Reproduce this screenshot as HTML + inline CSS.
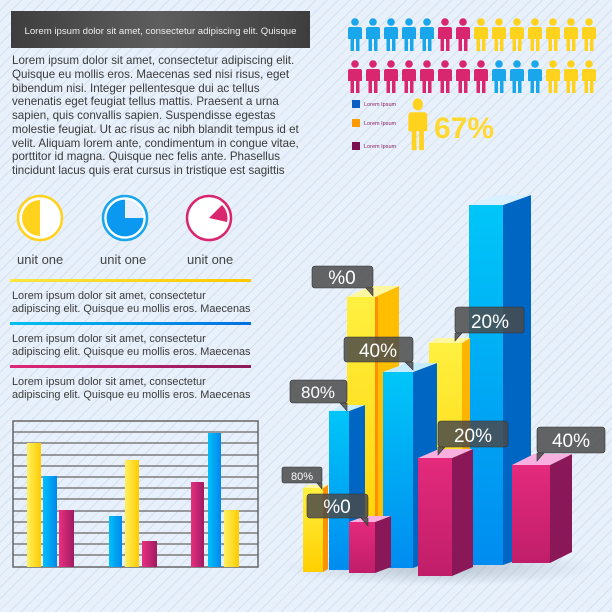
<!DOCTYPE html>
<html><head><meta charset="utf-8"><style>
html,body{margin:0;padding:0}
body{width:612px;height:612px;overflow:hidden;position:relative;font-family:"Liberation Sans",sans-serif;
background:#e8f1fb;background-image:repeating-linear-gradient(135deg,rgba(255,255,255,0) 0 7px,rgba(190,205,225,.45) 7px 8px);}
.abs{position:absolute}
.para{left:12px;top:54px;width:292px;font-size:11.6px;line-height:13.75px;color:#3a3a3a;white-space:nowrap}
.hdr{left:11px;top:11px;width:299px;height:37px;background:linear-gradient(90deg,#3e3e3e,#5e5e5e 50%,#3e3e3e);color:#eee;font-size:9.6px;line-height:42px;text-align:center}
.unit{font-size:13px;color:#444;top:252px}
.sm{font-size:10.9px;line-height:13px;color:#3a3a3a;left:12px}
.ln{height:3px;left:10px;width:241px}
</style></head><body>
<div class="abs hdr">Lorem ipsum dolor sit amet, consectetur adipiscing elit. Quisque</div>
<div class="abs para">Lorem ipsum dolor sit amet, consectetur adipiscing elit.<br>Quisque eu mollis eros. Maecenas sed nisi risus, eget<br>bibendum nisi. Integer pellentesque dui ac tellus<br>venenatis eget feugiat tellus mattis. Praesent a urna<br>sapien, quis convallis sapien. Suspendisse egestas<br>molestie feugiat. Ut ac risus ac nibh blandit tempus id et<br>velit. Aliquam lorem ante, condimentum in congue vitae,<br>porttitor id magna. Quisque nec felis ante. Phasellus<br>tincidunt lacus quis erat cursus in tristique est sagittis</div>
<div class="abs unit" style="left:17px">unit one</div>
<div class="abs unit" style="left:100px">unit one</div>
<div class="abs unit" style="left:187px">unit one</div>
<div class="abs ln" style="top:279px;background:linear-gradient(90deg,#ffe640,#ffc800)"></div>
<div class="abs sm" style="top:290px">Lorem ipsum dolor sit amet, consectetur<br>adipiscing elit. Quisque eu mollis eros. Maecenas</div>
<div class="abs ln" style="top:322px;background:linear-gradient(90deg,#00c0f0,#0070e0)"></div>
<div class="abs sm" style="top:333px">Lorem ipsum dolor sit amet, consectetur<br>adipiscing elit. Quisque eu mollis eros. Maecenas</div>
<div class="abs ln" style="top:365px;background:linear-gradient(90deg,#e0287a,#8a1a5a)"></div>
<div class="abs sm" style="top:376px">Lorem ipsum dolor sit amet, consectetur<br>adipiscing elit. Quisque eu mollis eros. Maecenas</div>

<svg class="abs" style="left:0;top:0" width="612" height="612" viewBox="0 0 612 612">
<defs>
<linearGradient id="bf" x1="0" y1="0" x2="0" y2="1"><stop offset="0" stop-color="#00c6f8"/><stop offset="1" stop-color="#008cf0"/></linearGradient>
<linearGradient id="yf" x1="0" y1="0" x2="0" y2="1"><stop offset="0" stop-color="#fff040"/><stop offset="1" stop-color="#ffd000"/></linearGradient>
<linearGradient id="mf" x1="0" y1="0" x2="0" y2="1"><stop offset="0" stop-color="#e42a7c"/><stop offset="1" stop-color="#c01e6a"/></linearGradient>
<linearGradient id="bh" x1="0" y1="0" x2="1" y2="0"><stop offset="0" stop-color="#00c0f8"/><stop offset="1" stop-color="#0088ee"/></linearGradient>
<linearGradient id="yh" x1="0" y1="0" x2="1" y2="0"><stop offset="0" stop-color="#fff060"/><stop offset="1" stop-color="#ffcc00"/></linearGradient>
<linearGradient id="mh" x1="0" y1="0" x2="1" y2="0"><stop offset="0" stop-color="#e83080"/><stop offset="1" stop-color="#a01a62"/></linearGradient>
<radialGradient id="sh" cx=".5" cy=".5" r=".5"><stop offset="0" stop-color="#9aa8b8" stop-opacity=".6"/><stop offset="1" stop-color="#9aa8b8" stop-opacity="0"/></radialGradient>
<g id="p"><circle cx="8" cy="4" r="3.8"/><path d="M3 9h10a2 2 0 0 1 2 2v10h-2.5v12h-3.5v-12h-2v12h-3.5v-12h-2.5v-10a2 2 0 0 1 2-2z"/></g>
</defs>

<g fill="#1aa6ea">
<use href="#p" x="347" y="18"/><use href="#p" x="365" y="18"/><use href="#p" x="383" y="18"/><use href="#p" x="401" y="18"/><use href="#p" x="419" y="18"/>
</g>
<g fill="#d8276f"><use href="#p" x="437" y="18"/><use href="#p" x="455" y="18"/></g>
<g fill="#ffd21e">
<use href="#p" x="473" y="18"/><use href="#p" x="491" y="18"/><use href="#p" x="509" y="18"/><use href="#p" x="527" y="18"/><use href="#p" x="545" y="18"/><use href="#p" x="563" y="18"/><use href="#p" x="581" y="18"/>
</g>
<g fill="#d8276f">
<use href="#p" x="347" y="60"/><use href="#p" x="365" y="60"/><use href="#p" x="383" y="60"/><use href="#p" x="401" y="60"/><use href="#p" x="419" y="60"/><use href="#p" x="437" y="60"/><use href="#p" x="455" y="60"/><use href="#p" x="473" y="60"/>
</g>
<g fill="#1aa6ea"><use href="#p" x="491" y="60"/><use href="#p" x="509" y="60"/><use href="#p" x="527" y="60"/></g>
<g fill="#ffd21e"><use href="#p" x="545" y="60"/><use href="#p" x="563" y="60"/><use href="#p" x="581" y="60"/></g>
<rect x="352" y="100" width="8" height="8" fill="#0a60c0"/>
<rect x="352" y="119" width="8" height="8" fill="#ff9a00"/>
<rect x="352" y="142" width="8" height="8" fill="#7a1050"/>
<g font-size="5.5" fill="#8a2060"><text x="364" y="106">Lorem Ipsum</text><text x="364" y="125">Lorem Ipsum</text><text x="364" y="148">Lorem Ipsum</text></g>
<use href="#p" transform="translate(407,98) scale(1.35,1.58)" fill="#ffd21e"/>
<text x="434" y="138" font-size="30" font-weight="bold" fill="#ffd830">67%</text>

<circle cx="40" cy="218" r="22" fill="#fff" stroke="#ffd21e" stroke-width="2.5"/>
<path d="M40 200 A18 18 0 0 0 40 236Z" fill="#ffd21e"/>
<circle cx="125" cy="218" r="22" fill="#fff" stroke="#1aa6ea" stroke-width="2.5"/>
<circle cx="125" cy="218" r="19" fill="#0a98f0"/>
<path d="M125 218V199A19 19 0 0 1 144 218Z" fill="#e8f1fb"/>
<circle cx="125" cy="218" r="19" fill="none" stroke="#fff" stroke-width="1.2"/>
<circle cx="209" cy="218" r="22" fill="#fff" stroke="#d8276f" stroke-width="2.5"/>
<path d="M209 218L222 205A18 18 0 0 1 227 222Z" fill="#d8276f"/>

<rect x="13" y="421" width="245" height="146" fill="none" stroke="#666" stroke-width="1.5"/>
<g stroke="#666" stroke-width="1.2">
<line x1="13" y1="432" x2="258" y2="432"/><line x1="13" y1="443" x2="258" y2="443"/><line x1="13" y1="455" x2="258" y2="455"/><line x1="13" y1="466" x2="258" y2="466"/><line x1="13" y1="477" x2="258" y2="477"/><line x1="13" y1="488" x2="258" y2="488"/><line x1="13" y1="499" x2="258" y2="499"/><line x1="13" y1="511" x2="258" y2="511"/><line x1="13" y1="522" x2="258" y2="522"/><line x1="13" y1="533" x2="258" y2="533"/><line x1="13" y1="544" x2="258" y2="544"/><line x1="13" y1="555" x2="258" y2="555"/>
</g>
<rect x="27" y="443" width="14" height="124" fill="url(#yh)"/>
<rect x="43" y="476" width="14" height="91" fill="url(#bh)"/>
<rect x="59" y="510" width="15" height="57" fill="url(#mh)"/>
<rect x="109" y="516" width="13" height="51" fill="url(#bh)"/>
<rect x="125" y="460" width="14" height="107" fill="url(#yh)"/>
<rect x="142" y="541" width="15" height="26" fill="url(#mh)"/>
<rect x="191" y="482" width="13" height="85" fill="url(#mh)"/>
<rect x="208" y="433" width="13" height="134" fill="url(#bh)"/>
<rect x="224" y="510" width="15" height="57" fill="url(#yh)"/>

<ellipse cx="440" cy="568" rx="160" ry="18" fill="url(#sh)"/>
<rect x="469" y="205" width="34" height="360" fill="url(#bf)"/>
<polygon points="503,205 531,195 531,555 503,565" fill="#0066c4"/>
<polygon points="469,205 497,195 531,195 503,205" fill="#d8f0ff"/>
<rect x="347" y="297" width="28" height="273" fill="url(#yf)"/>
<polygon points="375,297 399,286 399,560 375,570" fill="#ffbe00"/>
<polygon points="347,297 371,286 399,286 375,297" fill="#fff6a0"/>
<rect x="375" y="297" width="3" height="273" fill="#ff9000"/>
<rect x="429" y="343" width="33" height="222" fill="url(#yf)"/>
<polygon points="462,343 470,338 470,560 462,565" fill="#ffb400"/>
<polygon points="429,343 437,338 470,338 462,343" fill="#fff6a0"/>
<rect x="383" y="372" width="30" height="196" fill="url(#bf)"/>
<polygon points="413,372 437,363 437,559 413,568" fill="#0066c4"/>
<polygon points="383,372 407,363 437,363 413,372" fill="#c8ecff"/>
<rect x="329" y="411" width="20" height="159" fill="url(#bf)"/>
<polygon points="349,411 365,405 365,564 349,570" fill="#0066c4"/>
<polygon points="329,411 345,405 365,405 349,411" fill="#c8ecff"/>
<rect x="303" y="488" width="20" height="84" fill="url(#yf)"/>
<polygon points="323,488 328,485 328,569 323,572" fill="#ff9000"/>
<polygon points="303,488 308,485 328,485 323,488" fill="#fff6a0"/>
<rect x="349" y="522" width="26" height="51" fill="url(#mf)"/>
<polygon points="375,522 391,516 391,567 375,573" fill="#8a1858"/>
<polygon points="349,522 365,516 391,516 375,522" fill="#f8b0e0"/>
<rect x="418" y="458" width="34" height="118" fill="url(#mf)"/>
<polygon points="452,458 473,449 473,567 452,576" fill="#8a1858"/>
<polygon points="418,458 439,449 473,449 452,458" fill="#f8b0e0"/>
<rect x="512" y="465" width="38" height="98" fill="url(#mf)"/>
<polygon points="550,465 572,454 572,552 550,563" fill="#8a1858"/>
<polygon points="512,465 534,454 572,454 550,465" fill="#f8b0e0"/>

<g fill="#4a4a4a" fill-opacity=".85" stroke="#333" stroke-width=".6">
<rect x="312" y="266" width="61" height="22" rx="3"/><path d="M366 288l7 0 0 8z"/>
<rect x="344" y="337" width="69" height="25" rx="3"/><path d="M405 362l8 0 0 8z"/>
<rect x="455" y="307" width="69" height="26" rx="3"/><path d="M455 333l7 0-7 8z"/>
<rect x="290" y="380" width="57" height="23" rx="3"/><path d="M340 403l7 0 0 8z"/>
<rect x="438" y="421" width="70" height="26" rx="3"/><path d="M438 447l7 0-7 8z"/>
<rect x="537" y="427" width="68" height="26" rx="3"/><path d="M537 453l7 0-7 8z"/>
<rect x="282" y="467" width="40" height="16" rx="2"/><path d="M317 483l5 0 0 6z"/>
<rect x="307" y="494" width="61" height="24" rx="3"/><path d="M361 518l7 0 0 8z"/>
</g>
<g fill="#fff" text-anchor="middle" font-size="19">
<text x="342" y="284">%0</text>
<text x="378" y="357">40%</text>
<text x="490" y="328">20%</text>
<text x="318" y="398" font-size="17">80%</text>
<text x="473" y="442">20%</text>
<text x="571" y="447">40%</text>
<text x="302" y="480" font-size="11">80%</text>
<text x="337" y="513">%0</text>
</g>
</svg>
</body></html>
